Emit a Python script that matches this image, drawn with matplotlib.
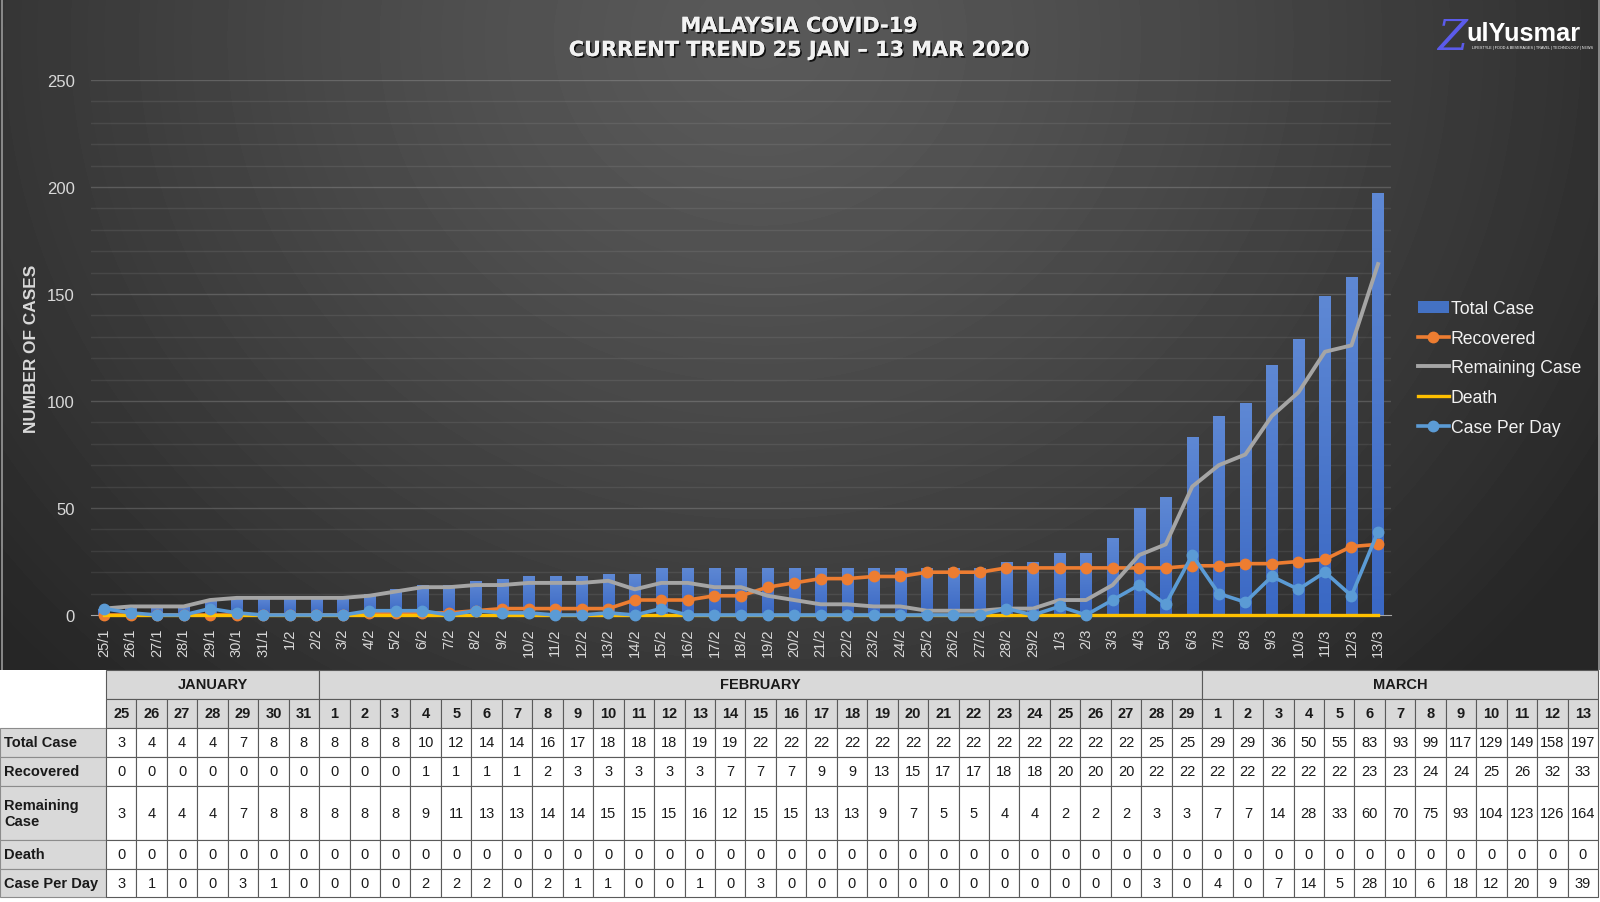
import numpy as np
import matplotlib
matplotlib.use("Agg")
import matplotlib.pyplot as plt
from matplotlib.patches import Rectangle
from matplotlib.colors import LinearSegmentedColormap
import matplotlib.patheffects as pe

plt.rcParams['font.family'] = ['Liberation Sans', 'DejaVu Sans']

jan_days = [25, 26, 27, 28, 29, 30, 31]
feb_days = list(range(1, 30))
mar_days = list(range(1, 14))

total_case = [3, 4, 4, 4, 7, 8, 8,
              8, 8, 8, 10, 12, 14, 14, 16, 17, 18, 18, 18, 19, 19,
              22, 22, 22, 22, 22, 22, 22, 22, 22, 22, 22, 22, 22, 25, 25,
              29, 29, 36, 50, 55, 83, 93, 99, 117, 129, 149, 158, 197]
recovered = [0, 0, 0, 0, 0, 0, 0,
             0, 0, 0, 1, 1, 1, 1, 2, 3, 3, 3, 3, 3, 7, 7, 7, 9, 9, 13,
             15, 17, 17, 18, 18, 20, 20, 20, 22, 22,
             22, 22, 22, 22, 22, 23, 23, 24, 24, 25, 26, 32, 33]
remaining = [3, 4, 4, 4, 7, 8, 8,
             8, 8, 8, 9, 11, 13, 13, 14, 14, 15, 15, 15, 16, 12, 15, 15, 13, 13, 9,
             7, 5, 5, 4, 4, 2, 2, 2, 3, 3,
             7, 7, 14, 28, 33, 60, 70, 75, 93, 104, 123, 126, 164]
death = [0] * 49
case_per_day = [3, 1, 0, 0, 3, 1, 0,
                0, 0, 0, 2, 2, 2, 0, 2, 1, 1, 0, 0, 1, 0, 3, 0, 0, 0, 0,
                0, 0, 0, 0, 0, 0, 0, 0, 3, 0,
                4, 0, 7, 14, 5, 28, 10, 6, 18, 12, 20, 9, 39]

months = ["JANUARY", "FEBRUARY", "MARCH"]
month_days = [jan_days, feb_days, mar_days]
month_num = [1, 2, 3]

date_labels = []
for days, m in zip(month_days, month_num):
    date_labels += [f"{d}/{m}" for d in days]
all_days = jan_days + feb_days + mar_days

row_names = ["Total Case", "Recovered", "Remaining\nCase", "Death", "Case Per Day"]
row_values = [total_case, recovered, remaining, death, case_per_day]

W, H = 1600, 903
fig = plt.figure(figsize=(W / 100, H / 100), dpi=100)
fig.patch.set_facecolor("white")

# dark gradient background of the chart part
dark_h = 671
bg = fig.add_axes([0, 1 - dark_h / H, 1, dark_h / H])
yy, xx = np.mgrid[0:dark_h, 0:W]
d = np.sqrt(((xx - 760) / 1000) ** 2 + ((yy - 40) / 900) ** 2)
v = 0.35 - 0.20 * np.clip(d, 0, 1) ** 1.3
bg.imshow(v, cmap="gray", vmin=0, vmax=1, aspect="auto", interpolation="bilinear")
bg.axvline(1, color="#9a9a9a", lw=1.2)
bg.axvline(W - 2, color="#9a9a9a", lw=1.2)
bg.set_axis_off()

# main chart axes
x0, x1 = 90.7, 1391.3
y0, y1 = 616, 81
ax = fig.add_axes([x0 / W, 1 - y0 / H, (x1 - x0) / W, (y0 - y1) / H])
ax.set_facecolor("none")
x = np.arange(len(date_labels))

for yv in range(10, 251, 10):
    ax.axhline(yv, color="white", alpha=0.17 if yv % 50 == 0 else 0.08, lw=1, zorder=0)

bars = ax.bar(x, total_case, width=0.42, color="#4472c4", zorder=2, label="Total Case")
# slight vertical shading inside each bar
bar_cmap = LinearSegmentedColormap.from_list("bar", ["#3a68c4", "#5e88d4"])
grad = np.linspace(0, 1, 64).reshape(-1, 1)
for b in bars:
    bx, bw, bh = b.get_x(), b.get_width(), b.get_height()
    im = ax.imshow(grad, extent=[bx, bx + bw, 0, bh], origin="lower", cmap=bar_cmap,
                   aspect="auto", zorder=2.1, interpolation="bilinear")
    im.set_clip_path(b)

l1, = ax.plot(x, recovered, "-o", color="#ED7D31", lw=2.6, ms=7.5, zorder=3, clip_on=False, label="Recovered")
l2, = ax.plot(x, remaining, "-", color="#A5A5A5", lw=2.8, zorder=3, clip_on=False, label="Remaining Case")
l3, = ax.plot(x, death, "-", color="#FFC000", lw=2.4, zorder=4, clip_on=False, label="Death")
l4, = ax.plot(x, case_per_day, "-o", color="#5B9BD5", lw=2.6, ms=7.5, zorder=5, clip_on=False, label="Case Per Day")

ax.set_xlim(-0.5, len(x) - 0.5)
ax.set_ylim(0, 250)
for s in ["top", "right", "left"]:
    ax.spines[s].set_visible(False)
ax.spines["bottom"].set_color("#a6a6a6")
ax.spines["bottom"].set_zorder(1)
ax.set_yticks(np.arange(0, 251, 50))
ax.set_xticks(x)
ax.set_xticklabels(date_labels, rotation=90, fontsize=10.5, color="#d9d9d9")
ax.tick_params(axis="x", length=0, pad=9)
ax.tick_params(axis="y", length=0, pad=11.5, labelsize=12, labelcolor="#d9d9d9")

fig.text(32 / W, 1 - 349 / H, "NUMBER OF CASES", rotation=90, fontsize=12.4, fontweight="bold",
         color="#d9d9d9", ha="center", va="center")

leg = ax.legend([bars, l1, l2, l3, l4], ["Total Case", "Recovered", "Remaining Case", "Death", "Case Per Day"],
                loc="upper left", bbox_to_anchor=(1418 / W, 1 - 301 / H), bbox_transform=fig.transFigure,
                frameon=False, fontsize=12.7, handlelength=1.75, handletextpad=0.12, labelspacing=0.72,
                borderaxespad=0, borderpad=0)
for t in leg.get_texts():
    t.set_color("#f2f2f2")

# title with shadow
shadow = [pe.withSimplePatchShadow(offset=(1.2, -1.2), shadow_rgbFace="black", alpha=0.8), pe.Normal()]
fig.text(799 / W, 1 - 27 / H, "MALAYSIA COVID-19", fontsize=15, fontweight="bold", family="DejaVu Sans",
         color="#f2f2f2", ha="center", va="center", path_effects=shadow)
fig.text(799 / W, 1 - 51 / H, "CURRENT TREND 25 JAN \u2013 13 MAR 2020", fontsize=15, fontweight="bold",
         family="DejaVu Sans", color="#f2f2f2", ha="center", va="center", path_effects=shadow)

# logo
fig.text(1452 / W, 1 - 38 / H, "Z", fontsize=31, style="italic", family="DejaVu Serif",
         color="#5b5bea", ha="center", va="center")
fig.text(1466 / W, 1 - 34 / H, "ulYusmar", fontsize=18.3, fontweight="bold", color="white",
         ha="left", va="center")
fig.text(1472 / W, 1 - 48 / H, "LIFESTYLE | FOOD & BEVERAGES | TRAVEL | TECHNOLOGY | NEWS",
         fontsize=2.7, color="white", ha="left", va="center")

# table underneath, drawn in pixel coordinates
tb = fig.add_axes([0, 0, 1, 1], zorder=10)
tb.set_xlim(0, W)
tb.set_ylim(H, 0)
tb.set_axis_off()

lab_w = 106
col_w = (1598 - lab_w) / len(all_days)
row_edges = [671, 700, 729, 758, 787, 841, 870, 898]
header_fc = "#d9d9d9"
edge = "#5a5a5a"

# month row
start = 0
for name, days in zip(months, month_days):
    xa = lab_w + start * col_w
    wdt = len(days) * col_w
    tb.add_patch(Rectangle((xa, row_edges[0]), wdt, row_edges[1] - row_edges[0], fc=header_fc, ec=edge, lw=0.8))
    tb.text(xa + wdt / 2, (row_edges[0] + row_edges[1]) / 2, name, ha="center", va="center",
            fontsize=10.5, fontweight="bold", color="#1a1a1a")
    start += len(days)

# day row
for i, dnum in enumerate(all_days):
    xa = lab_w + i * col_w
    tb.add_patch(Rectangle((xa, row_edges[1]), col_w, row_edges[2] - row_edges[1], fc=header_fc, ec=edge, lw=0.8))
    tb.text(xa + col_w / 2, (row_edges[1] + row_edges[2]) / 2, str(dnum), ha="center", va="center",
            fontsize=10.5, fontweight="bold", color="#1a1a1a")

# data rows
for r, (name, vals) in enumerate(zip(row_names, row_values)):
    ya, yb = row_edges[r + 2], row_edges[r + 3]
    tb.add_patch(Rectangle((0, ya), lab_w, yb - ya, fc=header_fc, ec="#8c8c8c", lw=0.8))
    tb.text(4, (ya + yb) / 2, name, ha="left", va="center", fontsize=10.5, fontweight="bold",
            color="#1a1a1a", linespacing=1.2)
    for i, val in enumerate(vals):
        xa = lab_w + i * col_w
        tb.add_patch(Rectangle((xa, ya), col_w, yb - ya, fc="white", ec=edge, lw=0.8))
        tb.text(xa + col_w / 2, (ya + yb) / 2, str(val), ha="center", va="center",
                fontsize=10.5, color="#1a1a1a")

fig.savefig("out.png", dpi=100, facecolor=fig.get_facecolor())
